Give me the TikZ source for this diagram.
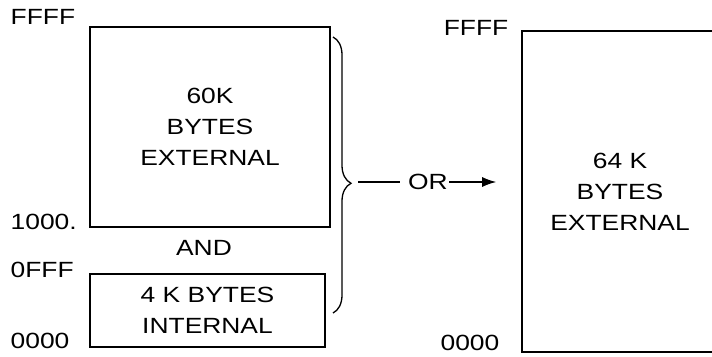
\documentclass[tikz,border=0pt]{standalone}
\usepackage{fontspec}
\setmainfont[FakeStretch=1.2]{Liberation Sans}
\usetikzlibrary{arrows.meta,decorations.pathreplacing}
\tikzset{
  memfont/.style={font=\fontsize{22}{31}\selectfont},
  membox/.style={draw,line width=1.6pt,memfont,align=center,inner sep=0pt},
  addr/.style={memfont,inner sep=0pt}
}
\begin{document}
\begin{tikzpicture}[x=1pt,y=-1pt,>={Latex[length=14pt,width=10pt]},line width=1.3pt]
    \clip (0,0) rectangle (712,356);
    % left map: external + internal
    \node[membox,minimum width=240pt,minimum height=200pt] (ext60) at (210,127) {60K\\BYTES\\EXTERNAL};
    \node[addr] (and) at (204,248) {AND};
    \node[membox,minimum width=235pt,minimum height=73pt] (int4) at (207.5,310.5) {4 K BYTES\\INTERNAL};
    \node[addr,anchor=west] (lffff) at (10,17) {FFFF};
    \node[addr,anchor=west] (l1000) at (10,222) {1000.};
    \node[addr,anchor=west] (l0fff) at (10,270) {0FFF};
    \node[addr,anchor=west] (l0000) at (10,341) {0000};
    % right map: all external
    \node[membox,minimum width=196pt,minimum height=321pt] (ext64) at (620,191.5) {64 K\\BYTES\\EXTERNAL};
    \node[addr] (rffff) at (476,28) {FFFF};
    \node[addr] (r0000) at (470,343) {0000};
    % brace and the OR arrow
    \coordinate (btop) at (333,37);
    \coordinate (bbot) at (333,313);
    \coordinate (btip) at (358,182);
    \draw[decorate,decoration={brace,amplitude=18pt,aspect=0.53}] (btop) -- (bbot);
    \node[addr,inner xsep=1pt] (or) at (428,182) {OR};
    \draw[shorten >=7pt] (btip) -- (or.west);
    \draw[->,shorten >=25pt] (or.east) -- (ext64.west |- or.east);
\end{tikzpicture}
\end{document}
